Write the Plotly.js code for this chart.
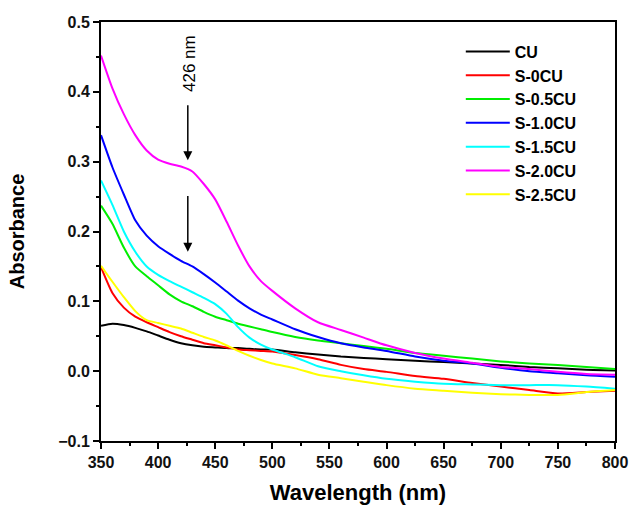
<!DOCTYPE html>
<html>
<head>
<meta charset="utf-8">
<script src="https://cdn.plot.ly/plotly-3.0.1.min.js"></script>
<style>html,body{margin:0;padding:0;background:#fff;}#chart{width:630px;height:505px;}</style>
</head>
<body>
<div id="chart"></div>
<script>
var wavelength = [350,360,370,380,390,400,410,420,430,440,450,460,470,480,490,500,520,540,560,580,600,625,650,675,700,725,750,775,800];
var seriesNames = ["CU","S-0CU","S-0.5CU","S-1.0CU","S-1.5CU","S-2.0CU","S-2.5CU"];
var seriesColors = ["#000000","#ff0000","#00ee00","#0000ff","#00ffff","#ff00ff","#ffff00"];
var absCU    = [0.065,0.068,0.066,0.062,0.057,0.051,0.045,0.040,0.037,0.035,0.034,0.033,0.033,0.032,0.031,0.031,0.027,0.024,0.021,0.019,0.017,0.015,0.013,0.011,0.009,0.006,0.004,0.002,0.001];
var absS0    = [0.149,0.112,0.091,0.078,0.070,0.063,0.056,0.050,0.045,0.040,0.037,0.034,0.031,0.030,0.029,0.028,0.023,0.017,0.009,0.003,-0.001,-0.007,-0.011,-0.017,-0.022,-0.027,-0.032,-0.030,-0.028];
var absS05   = [0.237,0.211,0.177,0.150,0.136,0.123,0.110,0.100,0.093,0.085,0.078,0.073,0.068,0.064,0.060,0.056,0.049,0.044,0.040,0.036,0.032,0.026,0.022,0.018,0.014,0.011,0.009,0.006,0.003];
var absS10   = [0.338,0.292,0.253,0.216,0.194,0.179,0.168,0.158,0.150,0.139,0.127,0.114,0.101,0.090,0.081,0.074,0.060,0.049,0.040,0.034,0.029,0.021,0.015,0.011,0.005,0.000,-0.003,-0.006,-0.008];
var absS15   = [0.273,0.238,0.200,0.171,0.150,0.138,0.129,0.121,0.113,0.105,0.096,0.082,0.063,0.048,0.038,0.031,0.020,0.007,0.000,-0.006,-0.011,-0.015,-0.018,-0.019,-0.020,-0.020,-0.020,-0.022,-0.025];
var absS20   = [0.452,0.405,0.368,0.338,0.316,0.303,0.297,0.293,0.286,0.268,0.246,0.214,0.180,0.150,0.129,0.115,0.090,0.070,0.059,0.048,0.037,0.026,0.018,0.012,0.006,0.003,-0.001,-0.004,-0.005];
var absS25   = [0.151,0.128,0.106,0.086,0.073,0.069,0.065,0.061,0.055,0.049,0.044,0.037,0.029,0.022,0.016,0.011,0.004,-0.005,-0.010,-0.015,-0.020,-0.025,-0.028,-0.031,-0.033,-0.034,-0.034,-0.030,-0.027];
var allSeries = [absCU,absS0,absS05,absS10,absS15,absS20,absS25];

var peakLabel = "426 nm";
var peakWavelength = 426;

var font = "'Liberation Sans', Arial, sans-serif";
var traces = allSeries.map(function(vals, i){
  return {x: wavelength, y: vals, type: 'scatter', mode: 'lines', name: seriesNames[i],
          line: {color: seriesColors[i], width: 2, shape: 'spline', smoothing: 0.6}};
});

var axisCommon = {
  showline: true, linecolor: '#000', linewidth: 2, mirror: true,
  ticks: 'outside', ticklen: 6, tickwidth: 2, tickcolor: '#000',
  showgrid: false, zeroline: false,
  tickfont: {family: font, size: 16, color: '#111', weight: 'bold'},
};

var layout = {
  width: 630, height: 505,
  margin: {l: 101, r: 15, t: 22, b: 64},
  paper_bgcolor: '#fff', plot_bgcolor: '#fff',
  font: {family: font, color: '#000'},
  showlegend: true,
  legend: {x: 0.70, xanchor: 'left', y: 0.970, yanchor: 'top', bgcolor: 'rgba(0,0,0,0)',
           font: {family: font, size: 16, weight: 'bold', color: '#000'}, itemwidth: 44, tracegroupgap: 0},
  xaxis: Object.assign({}, axisCommon, {
    range: [350, 800], dtick: 50, tick0: 350,
    minor: {dtick: 25, ticks: 'outside', ticklen: 3, tickwidth: 2, tickcolor: '#000'},
    title: {text: 'Wavelength (nm)', font: {family: font, size: 22, weight: 'bold', color: '#000'}, standoff: 17}
  }),
  yaxis: Object.assign({}, axisCommon, {
    range: [-0.1, 0.5], dtick: 0.1, tick0: 0, tickformat: '.1f',
    minor: {dtick: 0.05, ticks: 'outside', ticklen: 3, tickwidth: 2, tickcolor: '#000'},
    title: {text: 'Absorbance', font: {family: font, size: 20, weight: 'bold', color: '#000'}, standoff: 28}
  }),
  annotations: [
    {x: peakWavelength + 2, y: 0.44, xref: 'x', yref: 'y', text: peakLabel, textangle: -90, showarrow: false,
     font: {family: font, size: 17, color: '#000'}},
    {x: peakWavelength, y: 0.302, ax: peakWavelength, ay: 0.383, xref: 'x', yref: 'y', axref: 'x', ayref: 'y',
     text: '', showarrow: true, arrowhead: 2, arrowsize: 1.2, arrowwidth: 1.5, arrowcolor: '#000'},
    {x: peakWavelength, y: 0.171, ax: peakWavelength, ay: 0.253, xref: 'x', yref: 'y', axref: 'x', ayref: 'y',
     text: '', showarrow: true, arrowhead: 2, arrowsize: 1.2, arrowwidth: 1.5, arrowcolor: '#000'}
  ]
};

Plotly.newPlot('chart', traces, layout, {displayModeBar: false, staticPlot: true});
</script>
</body>
</html>
